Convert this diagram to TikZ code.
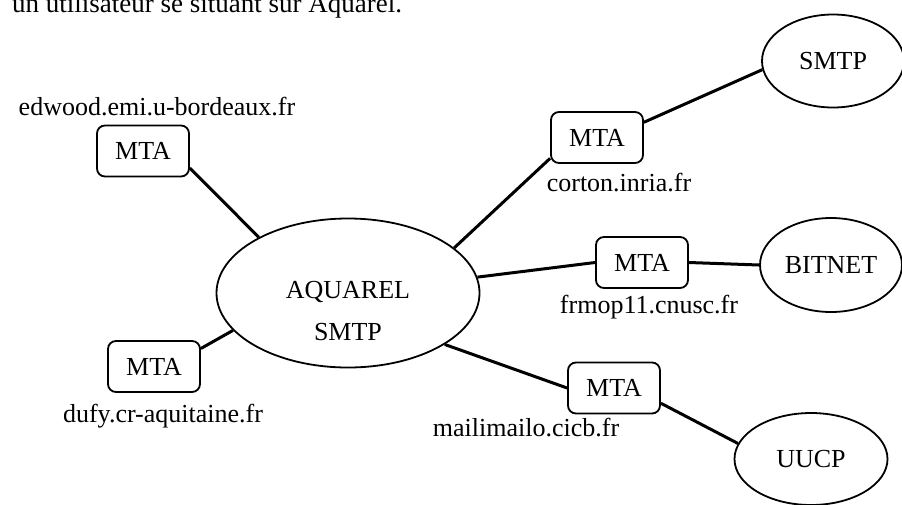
\documentclass[tikz,border=0pt]{standalone}
\usepackage{fontspec}
\setmainfont{Liberation Serif}
\usetikzlibrary{shapes}
\tikzstyle{mta} = [rectangle, draw, rounded corners=8pt, line width=1.8pt,
minimum width=92pt, minimum height=51pt, inner sep=0pt]
\tikzstyle{net} = [ellipse, draw, line width=1.8pt, inner sep=0pt]
\tikzstyle{host} = [inner sep=0pt]
\tikzstyle{line} = [draw, line width=3pt]

\begin{document}
\begin{tikzpicture}[x=1pt, y=-1pt, font=\fontsize{26}{42}\selectfont]
	\useasboundingbox (0,0) rectangle (902,504);
	% Place nodes
	\node [host, anchor=base west, font=\fontsize{27}{30}\selectfont] (intro) at (12,12) {un utilisateur se situant sur Aquarel.};
	\node [net, minimum width=263pt, minimum height=149pt] (aquarel) at (348,293) {};
	\node [host, align=center] (aquareltext) at (348,311) {AQUAREL\\SMTP};
	\node [net, minimum width=142pt, minimum height=93pt] (smtp) at (833,61) {SMTP};
	\node [net, minimum width=142pt, minimum height=94pt] (bitnet) at (831,265) {BITNET};
	\node [net, minimum width=153pt, minimum height=92pt] (uucp) at (811,459) {UUCP};
	\node [mta] (mtaedwood) at (143,151) {MTA};
	\node [mta] (mtacorton) at (597,137.5) {MTA};
	\node [mta] (mtafrmop) at (642,262.5) {MTA};
	\node [mta] (mtamaili) at (614,388) {MTA};
	\node [mta] (mtadufy) at (154,366.5) {MTA};
	% host names
	\node [host, above of=mtaedwood, node distance=44pt, xshift=14pt] (edwood) {edwood.emi.u-bordeaux.fr};
	\node [host, below of=mtacorton, node distance=45pt, xshift=22pt] (corton) {corton.inria.fr};
	\node [host, below of=mtafrmop, node distance=45pt, xshift=7pt] (frmop) {frmop11.cnusc.fr};
	\node [host, below of=mtamaili, node distance=40pt, xshift=-88pt] (maili) {mailimailo.cicb.fr};
	\node [host, below of=mtadufy, node distance=50pt, xshift=9pt] (dufy) {dufy.cr-aquitaine.fr};

	\path [line] (mtaedwood.-20) -- (aquarel.148);
	\path [line] (mtacorton.204) -- (aquarel.23);
	\path [line] (mtacorton.18) -- (smtp.187);
	\path [line] (aquarel.7) -- (mtafrmop.west);
	\path [line] (mtafrmop.east) -- (bitnet.west);
	\path [line] (aquarel.-28) -- (mtamaili.west);
	\path [line] (mtamaili.-18) -- (uucp.168);
	\path [line] (mtadufy.21) -- (aquarel.198);
\end{tikzpicture}
\end{document}
